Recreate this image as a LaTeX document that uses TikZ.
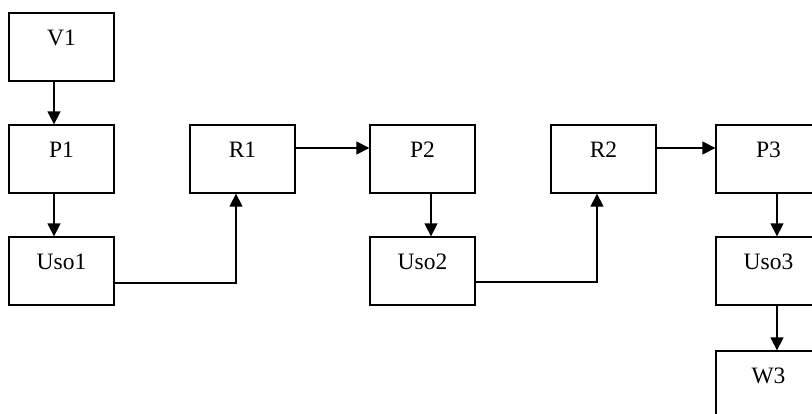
\documentclass[tikz,border=0pt]{standalone}
\usepackage{fontspec}
\setmainfont{Liberation Serif}
\usetikzlibrary{arrows.meta}
\begin{document}
\begin{tikzpicture}[x=1pt,y=1pt,
  box/.style={draw,line width=1.3pt,inner sep=0pt,minimum width=105pt,
    text height=32.5pt,text depth=35.5pt,font=\fontsize{23.5}{27}\selectfont},
  conn/.style={line width=1.3pt,-{Triangle[length=13pt,width=13pt]}}]
\useasboundingbox (0,0) rectangle (812,-413);
\clip (0,0) rectangle (812,-413);
\node[box] (V1) at (61.5,-47) {V1};
\node[box] (P1) at (61.5,-159) {P1};
\node[box] (U1) at (61.5,-271) {Uso1};
\node[box] (R1) at (242.5,-159) {R1};
\node[box] (P2) at (422.5,-159) {P2};
\node[box] (U2) at (422.5,-271) {Uso2};
\node[box] (R2) at (603.5,-159) {R2};
\node[box] (P3) at (768.5,-159) {P3};
\node[box] (U3) at (768.5,-271) {Uso3};
\node[box] (W3) at (768.5,-385) {W3};
\draw[conn] ([xshift=-7.5pt]V1.south) -- ([xshift=-7.5pt]P1.north);
\draw[conn] ([xshift=-7.5pt]P1.south) -- ([xshift=-7.5pt]U1.north);
\draw[conn] ([yshift=-12pt]U1.east) -| ([xshift=-6.5pt]R1.south);
\draw[conn] ([yshift=11pt]R1.east) -- ([yshift=11pt]P2.west);
\draw[conn] ([xshift=8.5pt]P2.south) -- ([xshift=8.5pt]U2.north);
\draw[conn] ([yshift=-11pt]U2.east) -| ([xshift=-6.5pt]R2.south);
\draw[conn] ([yshift=11pt]R2.east) -- ([yshift=11pt]P3.west);
\draw[conn] ([xshift=8.5pt]P3.south) -- ([xshift=8.5pt]U3.north);
\draw[conn] ([xshift=8.5pt]U3.south) -- ([xshift=8.5pt]W3.north);
\end{tikzpicture}
\end{document}
